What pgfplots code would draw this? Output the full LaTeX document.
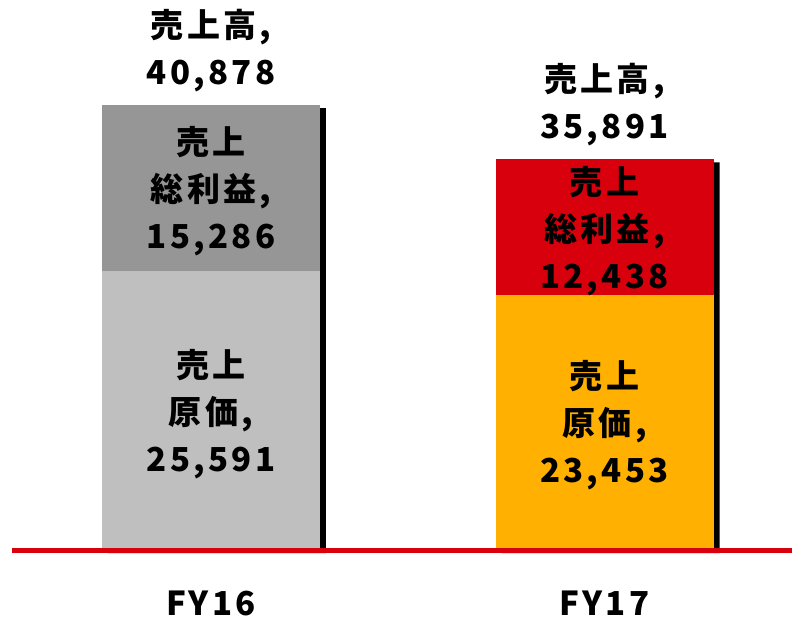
\documentclass[border=0pt]{standalone}
\usepackage{fontspec}
\setmainfont{Noto Sans CJK JP}[LetterSpace=10]
\usepackage{pgfplots}
\pgfplotsset{compat=1.18}
\definecolor{gpDark}{HTML}{969696}
\definecolor{gpLight}{HTML}{BFBFBF}
\definecolor{gpRed}{HTML}{D9000D}
\definecolor{gpOrange}{HTML}{FFB000}
\tikzset{lbl/.style={font=\bfseries\fontsize{33pt}{47pt}\selectfont, align=center, text=black, inner sep=0pt}}
\begin{document}
\begin{tikzpicture}
\begin{axis}[name=ax, scale only axis, width=780pt, height=550pt,
  hide axis, clip=false, ybar, bar width=0.554,
  xmin=-0.5057, xmax=1.4765, ymin=0, ymax=50524]
% shadows
\addplot[fill=black, draw=none, bar shift=6pt, yshift=-3pt] coordinates {(0,40878) (1,35891)};
% totals (sales)
\addplot[fill=gpDark, draw=none, bar shift=0pt] coordinates {(0,40878)};
\addplot[fill=gpRed, draw=none, bar shift=0pt] coordinates {(1,35891)};
% cost of sales
\addplot[fill=gpLight, draw=none, bar shift=0pt] coordinates {(0,25591)};
\addplot[fill=gpOrange, draw=none, bar shift=0pt] coordinates {(1,23453)};
\draw[gpRed, line width=5pt] (rel axis cs:0,0) -- (rel axis cs:1,0);
\node[lbl] at (axis cs:0,45838) {売上高,\\40,878};
\node[lbl] at (axis cs:0,32978) {売上\\総利益,\\15,286};
\node[lbl] at (axis cs:0,12493) {売上\\原価,\\25,591};
\node[lbl] at (axis cs:1,40878) {売上高,\\35,891};
\node[lbl] at (axis cs:1,29303) {売上\\総利益,\\12,438};
\node[lbl] at (axis cs:1,11483) {売上\\原価,\\23,453};
\node[lbl] at (axis cs:0,-4869) {FY16};
\node[lbl] at (axis cs:1,-4869) {FY17};
\end{axis}
\pgfresetboundingbox
\path (ax.south west) ++(-12pt,-69pt) rectangle (ax.north east);
\end{tikzpicture}
\end{document}
